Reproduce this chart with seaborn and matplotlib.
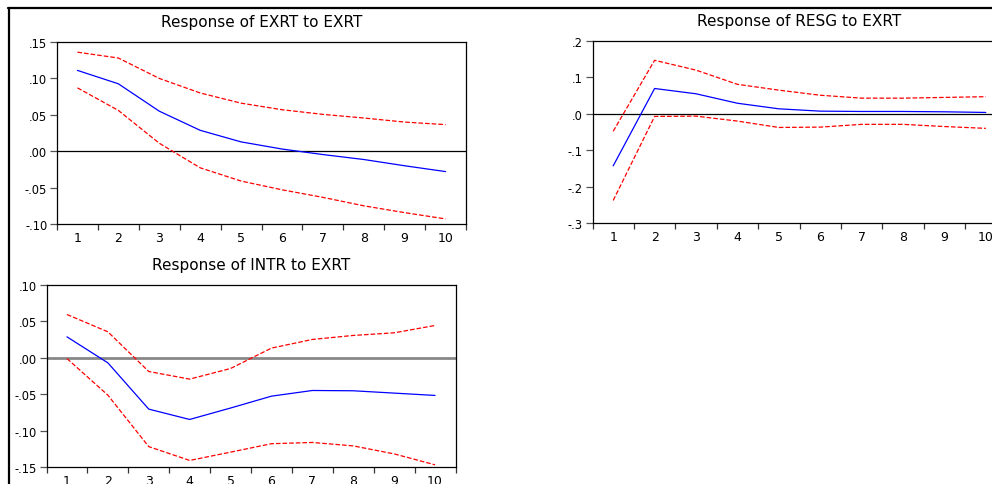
import matplotlib
matplotlib.use("Agg")
import matplotlib.pyplot as plt
from matplotlib.lines import Line2D
import seaborn as sns
import pandas as pd
import numpy as np

periods = [1, 2, 3, 4, 5, 6, 7, 8, 9, 10]

exrt_resp = [0.111, 0.0926, 0.055, 0.0287, 0.0128, 0.003, -0.0046, -0.0114, -0.020, -0.028]
exrt_upper = [0.136, 0.128, 0.100, 0.080, 0.066, 0.057, 0.0506, 0.0456, 0.040, 0.0365]
exrt_lower = [0.087, 0.056, 0.011, -0.0228, -0.041, -0.053, -0.0634, -0.075, -0.0844, -0.093]

resg_resp = [-0.143, 0.0695, 0.055, 0.029, 0.0137, 0.0073, 0.0064, 0.0064, 0.0055, 0.0037]
resg_upper = [-0.048, 0.147, 0.120, 0.081, 0.065, 0.051, 0.043, 0.043, 0.045, 0.047]
resg_lower = [-0.238, -0.0073, -0.0064, -0.020, -0.0375, -0.0366, -0.029, -0.029, -0.035, -0.040]

intr_resp = [0.0288, -0.0069, -0.0705, -0.0847, -0.069, -0.0527, -0.0449, -0.0453, -0.0485, -0.0517]
intr_upper = [0.0595, 0.0357, -0.0188, -0.0293, -0.0147, 0.0133, 0.0252, 0.0307, 0.0343, 0.0444]
intr_lower = [-0.001, -0.0513, -0.122, -0.141, -0.1296, -0.118, -0.1163, -0.121, -0.132, -0.147]

titles = ["Response of EXRT to EXRT", "Response of RESG to EXRT", "Response of INTR to EXRT"]
ylims = [(-0.10, 0.15), (-0.3, 0.2), (-0.15, 0.10)]
yticks = [[-0.10, -0.05, 0.00, 0.05, 0.10, 0.15],
          [-0.3, -0.2, -0.1, 0.0, 0.1, 0.2],
          [-0.15, -0.10, -0.05, 0.00, 0.05, 0.10]]
yticklabels = [["-.10", "-.05", ".00", ".05", ".10", ".15"],
               ["-.3", "-.2", "-.1", ".0", ".1", ".2"],
               ["-.15", "-.10", "-.05", ".00", ".05", ".10"]]

sns.set_style("white")
plt.rcParams['font.family'] = ['DejaVu Sans']
plt.rcParams['text.color'] = 'black'
plt.rcParams['xtick.color'] = 'black'
plt.rcParams['ytick.color'] = 'black'
plt.rcParams['axes.labelcolor'] = 'black'

fig = plt.figure(figsize=(9.92, 4.85), dpi=100)
positions = [
    [57 / 992, 1 - 225 / 485, 409 / 992, 182 / 485],
    [592.5 / 992, 1 - 224 / 485, 414 / 992, 182 / 485],
    [46.5 / 992, 1 - 468 / 485, 409 / 992, 182 / 485],
]
series = [
    (exrt_resp, exrt_upper, exrt_lower),
    (resg_resp, resg_upper, resg_lower),
    (intr_resp, intr_upper, intr_lower),
]

for i in range(3):
    ax = fig.add_axes(positions[i])
    resp, up, lo = series[i]
    df = pd.DataFrame({
        "period": periods * 3,
        "value": list(resp) + list(up) + list(lo),
        "kind": ["resp"] * 10 + ["upper"] * 10 + ["lower"] * 10,
    })
    zero_color = "#888888" if i == 2 else "black"
    zero_lw = 2.0 if i == 2 else 0.9
    ax.axhline(0, color=zero_color, lw=zero_lw, zorder=1)
    sns.lineplot(data=df[df.kind == "resp"], x="period", y="value", ax=ax,
                 color="#0000FF", lw=0.9, zorder=3)
    for k in ["upper", "lower"]:
        sns.lineplot(data=df[df.kind == k], x="period", y="value", ax=ax,
                     color="#FF0000", lw=0.9, dashes=(5, 3), linestyle="--", zorder=3)
    ax.set_xlim(0.5, 10.5)
    ax.set_ylim(*ylims[i])
    ax.set_xlabel("")
    ax.set_ylabel("")
    ax.set_yticks(yticks[i])
    ax.set_yticklabels(yticklabels[i], fontsize=8.3, color="black")
    ax.set_xticks(np.arange(0.5, 11, 1.0))
    ax.set_xticklabels([])
    ax.set_xticks(periods, minor=True)
    ax.set_xticklabels([str(p) for p in periods], minor=True, fontsize=9, color="black")
    ax.tick_params(axis="x", which="major", direction="out", length=4, width=0.9,
                   color="#333333", bottom=True)
    ax.tick_params(axis="x", which="minor", length=0, pad=5, bottom=True)
    ax.tick_params(axis="y", direction="out", length=5, width=0.9, color="#555555",
                   left=True, pad=2)
    for s in ax.spines.values():
        s.set_color("black")
        s.set_linewidth(0.9)
    ax.set_title(titles[i], fontsize=11, pad=11.5, color="black")

fig.add_artist(Line2D([8 / 992, 1], [1 - 8.5 / 485, 1 - 8.5 / 485],
                      transform=fig.transFigure, color="black", lw=1.6))
fig.add_artist(Line2D([8.5 / 992, 8.5 / 992], [0, 1 - 8.5 / 485],
                      transform=fig.transFigure, color="black", lw=1.6))

fig.savefig("out.png", dpi=100)
